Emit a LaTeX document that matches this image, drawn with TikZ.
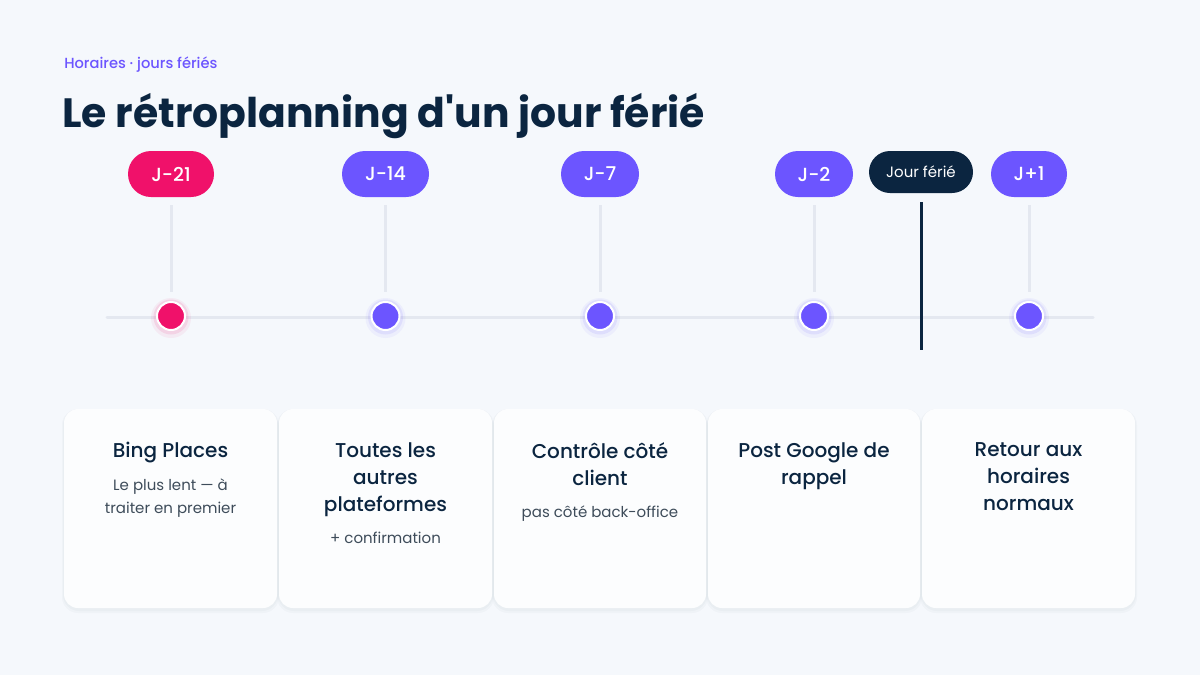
\documentclass[tikz,border=0pt]{standalone}
\usepackage{fontspec}
\setmainfont{Poppins}
\newfontfamily\popmed{Poppins}[UprightFont={* Medium}]
\newfontfamily\popbold{Poppins}[UprightFont={* Bold}]
\definecolor{bg}{HTML}{F5F8FC}
\definecolor{navy}{HTML}{0B2540}
\definecolor{violet}{HTML}{6C55FF}
\definecolor{pink}{HTML}{F0116A}
\definecolor{track}{HTML}{E4E8F0}
\definecolor{sub}{HTML}{3E4C5A}
\definecolor{cardfill}{HTML}{FCFDFE}
\tikzset{
  pill/.style={rounded corners=23*0.75pt, minimum height=46*0.75pt, inner sep=0pt, text=white, font=\popmed\fontsize{14.25}{16}\selectfont},
  stem/.style={draw=track, line width=3*0.75pt},
  dot/.style={circle, draw=white, line width=2*0.75pt, minimum size=28*0.75pt, inner sep=0pt},
  glowa/.style={circle, minimum size=40*0.75pt, inner sep=0pt, opacity=0.06},
  glowb/.style={circle, minimum size=35*0.75pt, inner sep=0pt, opacity=0.10},
  card/.style={rounded corners=14*0.75pt, fill=cardfill},
  cardshadow/.style={rounded corners=16*0.75pt, fill=navy, opacity=0.025},
  ctitle/.style={text=navy, align=center, font=\popmed\fontsize{15}{20.25}\selectfont, anchor=north, inner sep=0pt},
  csub/.style={text=sub, align=center, font=\fontsize{11.25}{17.25}\selectfont, anchor=north, inner sep=0pt},
}
\begin{document}
\begin{tikzpicture}[x=0.75pt,y=-0.75pt]
\useasboundingbox (0,0) rectangle (1200,675);
\fill[bg] (0,0) rectangle (1200,675);
% header
\node[anchor=base west, inner sep=0pt, text=violet, font=\popmed\fontsize{11}{12}\selectfont] (subt) at (64,68) {Horaires · jours fériés};
\node[anchor=base west, inner sep=0pt, text=navy, font=\popbold\fontsize{30.7}{36}\selectfont] (title) at (62,127) {Le rétroplanning d'un jour férié};
% track
\coordinate (tl) at (107,317);
\coordinate (tr) at (1093,317);
\draw[draw=track, line width=3*0.75pt, line cap=round] (tl) -- (tr);
% pills
\node[pill, fill=pink, minimum width=86*0.75pt] (p1) at (171,174) {J-21};
\node[pill, fill=violet, minimum width=87*0.75pt] (p2) at (385.5,174) {J-14};
\node[pill, fill=violet, minimum width=78*0.75pt] (p3) at (600,174) {J-7};
\node[pill, fill=violet, minimum width=78*0.75pt] (p4) at (814,174) {J-2};
\node[pill, fill=navy, minimum width=104*0.75pt, minimum height=42*0.75pt, rounded corners=21*0.75pt, font=\fontsize{11.25}{14}\selectfont] (p5) at (921,172) {Jour férié};
\node[pill, fill=violet, minimum width=76*0.75pt] (p6) at (1029,174) {J+1};
% glows and dots
\foreach \n/\x/\c in {1/171/pink,2/385.5/violet,3/600/violet,4/814/violet,6/1029/violet}{
  \node[glowa, fill=\c] (ga\n) at (\x,318) {};
  \node[glowb, fill=\c] (gb\n) at (\x,317) {};
  \node[dot, fill=\c] (d\n) at (\x,316) {};
  \coordinate (s\n) at (\x,205);
  \coordinate (e\n) at (\x,292);
  \draw[stem] (s\n) -- (e\n);
}
% holiday marker
\coordinate (hm1) at (921,202);
\coordinate (hm2) at (921,350);
\draw[draw=navy, line width=3*0.75pt] (hm1) -- (hm2);
% cards
\foreach \i/\a/\b in {1/64/277,2/279/492,3/494/706,4/708/920,5/922/1135}{
  \fill[cardshadow] (\a-2,409) rectangle (\b+2,613);
  \fill[cardshadow] (\a-1,409) rectangle (\b+1,611);
  \fill[card] (\a,409) rectangle (\b,608);
}
\node[ctitle] (t1) at (170.5,442) {Bing Places};
\node[csub] (u1) at (170.5,478) {Le plus lent — à\\traiter en premier};
\node[ctitle] (t2) at (385.5,442) {Toutes les\\autres\\plateformes};
\node[csub] (u2) at (385.5,532) {+ confirmation};
\node[ctitle] (t3) at (600,442) {Contrôle côté\\client};
\node[csub] (u3) at (600,505) {pas côté back-office};
\node[ctitle] (t4) at (814,442) {Post Google de\\rappel};
\node[ctitle] (t5) at (1028.5,442) {Retour aux\\horaires\\normaux};
\end{tikzpicture}
\end{document}
